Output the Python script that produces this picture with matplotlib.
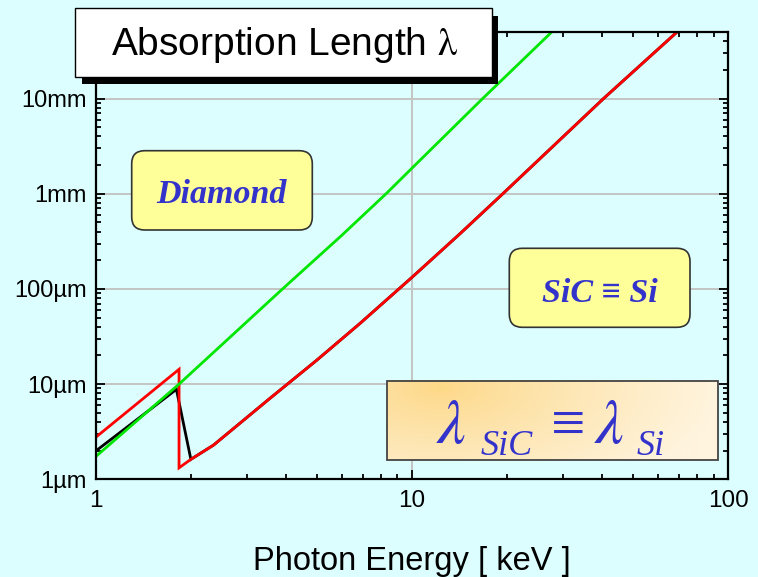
import numpy as np
import matplotlib
matplotlib.use('Agg')
import matplotlib.pyplot as plt
from matplotlib.patches import FancyBboxPatch, Rectangle
from matplotlib.ticker import LogLocator, FixedLocator, FixedFormatter, NullFormatter

W, H = 758, 577

# ---- data (photon energy in keV, absorption length in µm) ----
energy_diamond = [1.0, 1.835, 3.9, 6.0, 8.29, 10.0, 16.75, 27.7]
length_diamond = [1.73, 10.0, 100.0, 365.0, 1000.0, 1850.0, 10000.0, 50000.0]

energy_sic = [1.0, 1.835, 1.835, 2.0, 2.36, 3.56, 5.0, 6.86, 10.0, 14.2, 19.4, 40.4, 69.0]
length_sic = [2.76, 14.3, 1.32, 1.62, 2.29, 7.1, 17.8, 43.5, 132.0, 380.0, 1000.0, 10000.0, 50000.0]

energy_si = [1.0, 1.80, 2.0, 2.36, 3.56, 5.0, 6.86, 10.0, 14.2, 19.4, 40.4, 69.0]
length_si = [1.98, 8.8, 1.62, 2.29, 7.1, 17.8, 43.5, 132.0, 380.0, 1000.0, 10000.0, 50000.0]

x_ticks = [1, 10, 100]
x_tick_labels = ['1', '10', '100']
y_ticks = [1, 10, 100, 1000, 10000]
y_tick_labels = ['1µm', '10µm', '100µm', '1mm', '10mm']

title_text = r'Absorption Length $\mathrm{\lambda}$'
xlabel_text = 'Photon Energy [ keV ]'
label_diamond = 'Diamond'
label_sic = 'SiC ≡ Si'

BG = '#DCFEFE'
BLUE = '#3333CC'
SANS = ['Liberation Sans', 'DejaVu Sans']
SERIF = ['Liberation Serif', 'DejaVu Serif']

plt.rcParams['font.family'] = SANS
plt.rcParams['mathtext.fontset'] = 'stix'

fig = plt.figure(figsize=(W / 100, H / 100), dpi=100, facecolor=BG)

ax_l, ax_r, ax_t, ax_b = 95.7, 728.0, 32.0, 479.3
ax = fig.add_axes([ax_l / W, 1 - ax_b / H, (ax_r - ax_l) / W, (ax_b - ax_t) / H])
ax.set_facecolor(BG)
ax.set_xscale('log')
ax.set_yscale('log')
ax.set_xlim(1, 100)
ax.set_ylim(1, 5e4)

ax.xaxis.set_major_locator(FixedLocator(x_ticks))
ax.xaxis.set_major_formatter(FixedFormatter(x_tick_labels))
ax.yaxis.set_major_locator(FixedLocator(y_ticks))
ax.yaxis.set_major_formatter(FixedFormatter(y_tick_labels))
ax.xaxis.set_minor_locator(LogLocator(base=10, subs=np.arange(2, 10), numticks=20))
ax.yaxis.set_minor_locator(LogLocator(base=10, subs=np.arange(2, 10), numticks=20))
ax.xaxis.set_minor_formatter(NullFormatter())
ax.yaxis.set_minor_formatter(NullFormatter())

ax.grid(which='major', color='#C4C4C4', lw=1.4)
ax.set_axisbelow(True)
ax.tick_params(which='both', direction='in', top=True, right=True, width=1.3, color='black')
ax.tick_params(which='major', length=6.5)
ax.tick_params(which='minor', length=3.8)
ax.tick_params(axis='x', which='major', labelsize=17.5, pad=7.5)
ax.tick_params(axis='y', which='major', labelsize=17, pad=6.5)
for s in ax.spines.values():
    s.set_linewidth(1.6)

ax.plot(energy_si, length_si, color='black', lw=2.0, solid_joinstyle='miter')
ax.plot(energy_sic, length_sic, color='#FF0000', lw=2.0, solid_joinstyle='miter')
ax.plot(energy_diamond, length_diamond, color='#00E600', lw=2.0)

ax.set_xlabel(xlabel_text, fontsize=23.5, va='baseline')
ax.xaxis.set_label_coords(0.5, -(570 - ax_b) / (ax_b - ax_t))

# ---- overlay in pixel coordinates for boxes and annotations ----
ov = fig.add_axes([0, 0, 1, 1], zorder=5)
ov.axis('off')
ov.patch.set_alpha(0)

# title box with drop shadow
ov.add_patch(Rectangle((81.5, 15.6), 416.7, 68.4, facecolor='black', edgecolor='none'))
ov.add_patch(Rectangle((75, 8.3), 416.7, 68.4, facecolor='white', edgecolor='black', lw=1.0))
ov.text(285, 55, title_text, ha='center', va='baseline', fontsize=28, family=SANS, color='black')

# Diamond label
ov.add_patch(FancyBboxPatch((131.7, 150.7), 180.6, 79.3,
                            boxstyle='round,pad=0,rounding_size=13',
                            facecolor='#FFFF99', edgecolor='#333333', lw=1.2))
ov.text(221, 203, label_diamond, ha='center', va='baseline', fontsize=24.5,
        family=SERIF, style='italic', weight='bold', color=BLUE)

# SiC = Si label
ov.add_patch(FancyBboxPatch((509.3, 248.3), 180.7, 79.0,
                            boxstyle='round,pad=0,rounding_size=13',
                            facecolor='#FFFF99', edgecolor='#333333', lw=1.2))
ov.text(600, 301.5, label_sic, ha='center', va='baseline', fontsize=24.5,
        family=SERIF, style='italic', weight='bold', color=BLUE)

# lambda equality box with gradient
bx0, by0, bx1, by1 = 387.3, 380.7, 718.3, 460.0
gx = np.linspace(bx0, bx1, 332)
gy = np.linspace(by0, by1, 80)
GX, GY = np.meshgrid(gx, gy)
d = np.sqrt((GX - 440) ** 2 + ((GY - 388) * 2.2) ** 2) / 280.0
t = np.clip(d, 0, 1) ** 0.85
c0 = np.array([253, 216, 135]) / 255.0
c1 = np.array([255, 244, 222]) / 255.0
img = c0[None, None, :] * (1 - t[..., None]) + c1[None, None, :] * t[..., None]
ov.imshow(img, extent=[bx0, bx1, by1, by0], origin='upper', aspect='auto', zorder=1)
ov.add_patch(Rectangle((bx0, by0), bx1 - bx0, by1 - by0, facecolor='none',
                       edgecolor='#444444', lw=1.3, zorder=2))
ov.set_xlim(0, W)
ov.set_ylim(H, 0)

ov.text(436, 443, r'$\lambda$', ha='left', va='baseline', fontsize=46,
        color=BLUE, zorder=3)
ov.text(481, 455, 'SiC', ha='left', va='baseline', fontsize=26, family=SERIF,
        style='italic', color=BLUE, zorder=3)
ov.text(551, 443, '≡', ha='left', va='baseline', fontsize=44, family=SERIF,
        color=BLUE, zorder=3)
ov.text(594, 443, r'$\lambda$', ha='left', va='baseline', fontsize=46,
        color=BLUE, zorder=3)
ov.text(637, 455, 'Si', ha='left', va='baseline', fontsize=26, family=SERIF,
        style='italic', color=BLUE, zorder=3)

fig.savefig('out.png', dpi=100, facecolor=BG)
